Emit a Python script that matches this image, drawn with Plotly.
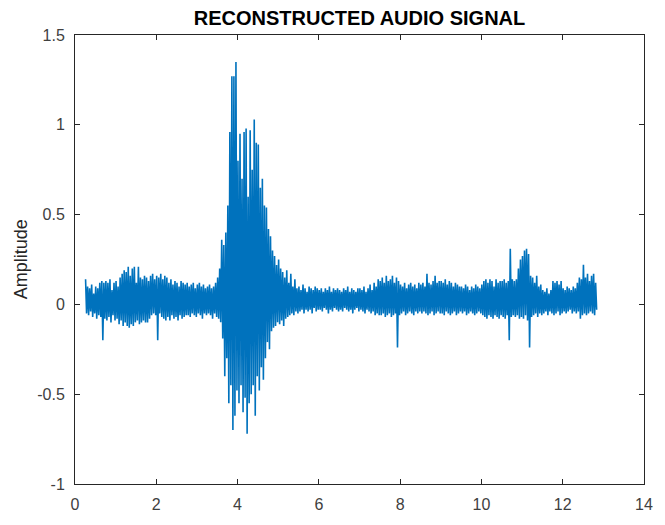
import plotly.graph_objects as go

# ---- data ----
t_start = 0.26      # seconds, first sample
t_step = 0.025      # seconds between plotted samples

seg_a = [0.14,-0.05, 0.10,-0.06, 0.09,-0.04, 0.11,-0.07, 0.06,-0.05, 0.10,-0.08, 0.09,-0.06, 0.12,-0.07, 0.13,-0.20, 0.12,-0.08]
seg_b = [0.13,-0.09, 0.12,-0.07, 0.14,-0.10, 0.08,-0.06, 0.12,-0.09, 0.13,-0.08, 0.10,-0.11, 0.15,-0.09, 0.17,-0.12, 0.19,-0.10]
seg_c = [0.18,-0.12, 0.21,-0.13, 0.16,-0.11, 0.20,-0.12, 0.21,-0.10, 0.12,-0.09, 0.21,-0.11, 0.15,-0.10, 0.14,-0.09, 0.16,-0.10]
seg_d = [0.15,-0.10, 0.13,-0.08, 0.16,-0.06, 0.17,-0.05, 0.14,-0.06, 0.16,-0.20, 0.15,-0.05, 0.17,-0.07, 0.14,-0.08, 0.16,-0.09]
seg_e = [0.15,-0.07, 0.12,-0.09, 0.14,-0.06, 0.11,-0.08, 0.13,-0.07, 0.12,-0.09, 0.10,-0.06, 0.13,-0.08, 0.12,-0.07, 0.11,-0.06]
seg_f = [0.12,-0.06, 0.10,-0.07, 0.11,-0.05, 0.12,-0.06, 0.09,-0.07, 0.11,-0.05, 0.12,-0.06, 0.10,-0.08, 0.11,-0.05, 0.09,-0.06]
seg_g = [0.10,-0.05, 0.11,-0.06, 0.09,-0.08, 0.10,-0.05, 0.12,-0.07]
seg_burst = [0.15,-0.08, 0.20,-0.10, 0.36,-0.19, 0.33,-0.40, 0.40,-0.30,
             0.55,-0.55, 0.96,-0.45, 1.27,-0.70, 1.27,-0.62, 1.35,-0.48,
             0.80,-0.55, 0.95,-0.45, 0.70,-0.60, 0.96,-0.52, 0.98,-0.72,
             0.60,-0.55, 0.97,-0.50, 0.75,-0.45, 1.03,-0.62, 0.90,-0.40,
             0.89,-0.48, 0.65,-0.35, 0.70,-0.42, 0.55,-0.30, 0.54,-0.21,
             0.42,-0.25, 0.38,-0.15, 0.30,-0.13, 0.27,-0.12, 0.22,-0.10,
             0.25,-0.11, 0.20,-0.09, 0.18,-0.12, 0.15,-0.08, 0.19,-0.07,
             0.12,-0.06, 0.17,-0.05, 0.10,-0.06, 0.14,-0.04, 0.09,-0.05]
seg_h = [0.10,-0.04, 0.08,-0.03, 0.11,-0.05, 0.09,-0.03, 0.07,-0.04, 0.10,-0.03, 0.09,-0.05, 0.08,-0.02, 0.10,-0.04, 0.09,-0.03]
seg_i = [0.08,-0.03, 0.09,-0.04, 0.07,-0.02, 0.09,-0.03, 0.08,-0.05, 0.10,-0.03, 0.07,-0.04, 0.09,-0.02, 0.08,-0.03, 0.09,-0.04]
seg_j = [0.08,-0.03, 0.07,-0.04, 0.09,-0.02, 0.08,-0.03, 0.10,-0.04, 0.07,-0.03, 0.09,-0.05, 0.08,-0.03, 0.07,-0.02, 0.09,-0.04]
seg_k = [0.09,-0.03, 0.08,-0.04, 0.10,-0.05, 0.07,-0.03, 0.09,-0.04, 0.11,-0.05, 0.08,-0.04, 0.12,-0.06, 0.10,-0.05, 0.14,-0.06]
seg_l = [0.13,-0.06, 0.15,-0.05, 0.12,-0.07, 0.16,-0.06, 0.13,-0.05, 0.14,-0.07, 0.16,-0.06, 0.12,-0.05, 0.15,-0.24, 0.13,-0.06]
seg_m = [0.11,-0.05, 0.10,-0.04, 0.12,-0.06, 0.09,-0.05, 0.11,-0.04, 0.12,-0.05, 0.10,-0.06, 0.11,-0.04, 0.09,-0.05, 0.12,-0.04]
seg_n = [0.11,-0.05, 0.12,-0.04, 0.10,-0.05, 0.17,-0.06, 0.12,-0.05, 0.11,-0.04, 0.13,-0.06, 0.16,-0.05, 0.12,-0.04, 0.13,-0.05]
seg_o = [0.13,-0.05, 0.12,-0.06, 0.14,-0.04, 0.11,-0.05, 0.13,-0.06, 0.12,-0.05, 0.10,-0.04, 0.12,-0.06, 0.11,-0.05, 0.10,-0.04]
seg_p = [0.10,-0.05, 0.09,-0.04, 0.11,-0.06, 0.10,-0.05, 0.08,-0.04, 0.10,-0.05, 0.09,-0.06, 0.11,-0.05, 0.10,-0.04, 0.09,-0.05]
seg_q = [0.11,-0.06, 0.13,-0.07, 0.14,-0.08, 0.12,-0.06, 0.14,-0.07, 0.13,-0.08, 0.10,-0.06, 0.14,-0.07, 0.12,-0.08, 0.13,-0.06]
seg_r = [0.13,-0.07, 0.14,-0.08, 0.12,-0.06, 0.13,-0.20, 0.31,-0.07, 0.14,-0.06, 0.13,-0.07, 0.14,-0.06, 0.20,-0.08, 0.25,-0.07]
seg_s = [0.27,-0.08, 0.30,-0.06, 0.31,-0.09, 0.28,-0.24, 0.16,-0.07, 0.15,-0.06, 0.12,-0.05, 0.16,-0.07, 0.10,-0.05, 0.11,-0.06]
seg_t = [0.08,-0.05, 0.07,-0.04, 0.09,-0.06, 0.06,-0.04, 0.08,-0.05, 0.13,-0.06, 0.12,-0.05, 0.13,-0.04, 0.11,-0.06, 0.13,-0.05]
seg_u = [0.09,-0.04, 0.08,-0.05, 0.10,-0.04, 0.09,-0.03, 0.08,-0.05, 0.10,-0.04, 0.09,-0.05, 0.12,-0.04, 0.15,-0.08, 0.14,-0.06]
seg_v = [0.22,-0.05, 0.15,-0.06, 0.17,-0.05, 0.13,-0.04, 0.16,-0.05, 0.17,-0.06, 0.12,-0.03]

x_tick_vals = [0, 2, 4, 6, 8, 10, 12, 14]
x_tick_text = ["0", "2", "4", "6", "8", "10", "12", "14"]
y_tick_vals = [-1, -0.5, 0, 0.5, 1, 1.5]
y_tick_text = ["-1", "-0.5", "0", "0.5", "1", "1.5"]

title_text = "RECONSTRUCTED AUDIO SIGNAL"
y_label = "Amplitude"

# ---- build the series ----
amplitude = (seg_a + seg_b + seg_c + seg_d + seg_e + seg_f + seg_g + seg_burst
             + seg_h + seg_i + seg_j + seg_k + seg_l + seg_m + seg_n + seg_o
             + seg_p + seg_q + seg_r + seg_s + seg_t + seg_u + seg_v)
time = [t_start + i * t_step for i in range(len(amplitude))]

fig = go.Figure()
fig.add_trace(go.Scatter(x=time, y=amplitude, mode="lines",
                         line=dict(color="#0072BD", width=1.6),
                         showlegend=False, hoverinfo="skip"))

axis_common = dict(showline=True, linecolor="#262626", linewidth=1,
                   mirror="ticks", ticks="inside", ticklen=5, tickwidth=1,
                   tickcolor="#262626", showgrid=False, zeroline=False,
                   tickfont=dict(family="Liberation Sans, Arial, sans-serif",
                                 size=16, color="#404040"))

fig.update_layout(
    width=665, height=525,
    margin=dict(l=75, r=12, t=35, b=33),
    paper_bgcolor="white", plot_bgcolor="white",
    hovermode=False,
    title=dict(text="<b>" + title_text + "</b>", x=0.5, xref="paper",
               xanchor="center", y=1 - 18 / 525, yref="container",
               yanchor="middle",
               font=dict(family="Liberation Sans, Arial, sans-serif",
                         size=20, color="#000000")),
    xaxis=dict(range=[0, 14], tickvals=x_tick_vals, ticktext=x_tick_text,
               ticklabelstandoff=6, **axis_common),
    yaxis=dict(range=[-1, 1.5], tickvals=y_tick_vals, ticktext=y_tick_text,
               ticklabelstandoff=6, **axis_common),
    annotations=[dict(text=y_label, xref="paper", yref="paper",
                      x=(20 - 75) / 578, y=0.5, xanchor="center",
                      yanchor="middle", textangle=-90, showarrow=False,
                      font=dict(family="Liberation Sans, Arial, sans-serif",
                                size=18, color="#262626"))],
)

fig.write_html("out.html",
               config={"displayModeBar": False},
               post_script="document.body.style.margin='0px';"
                           "document.body.style.overflow='hidden';")
